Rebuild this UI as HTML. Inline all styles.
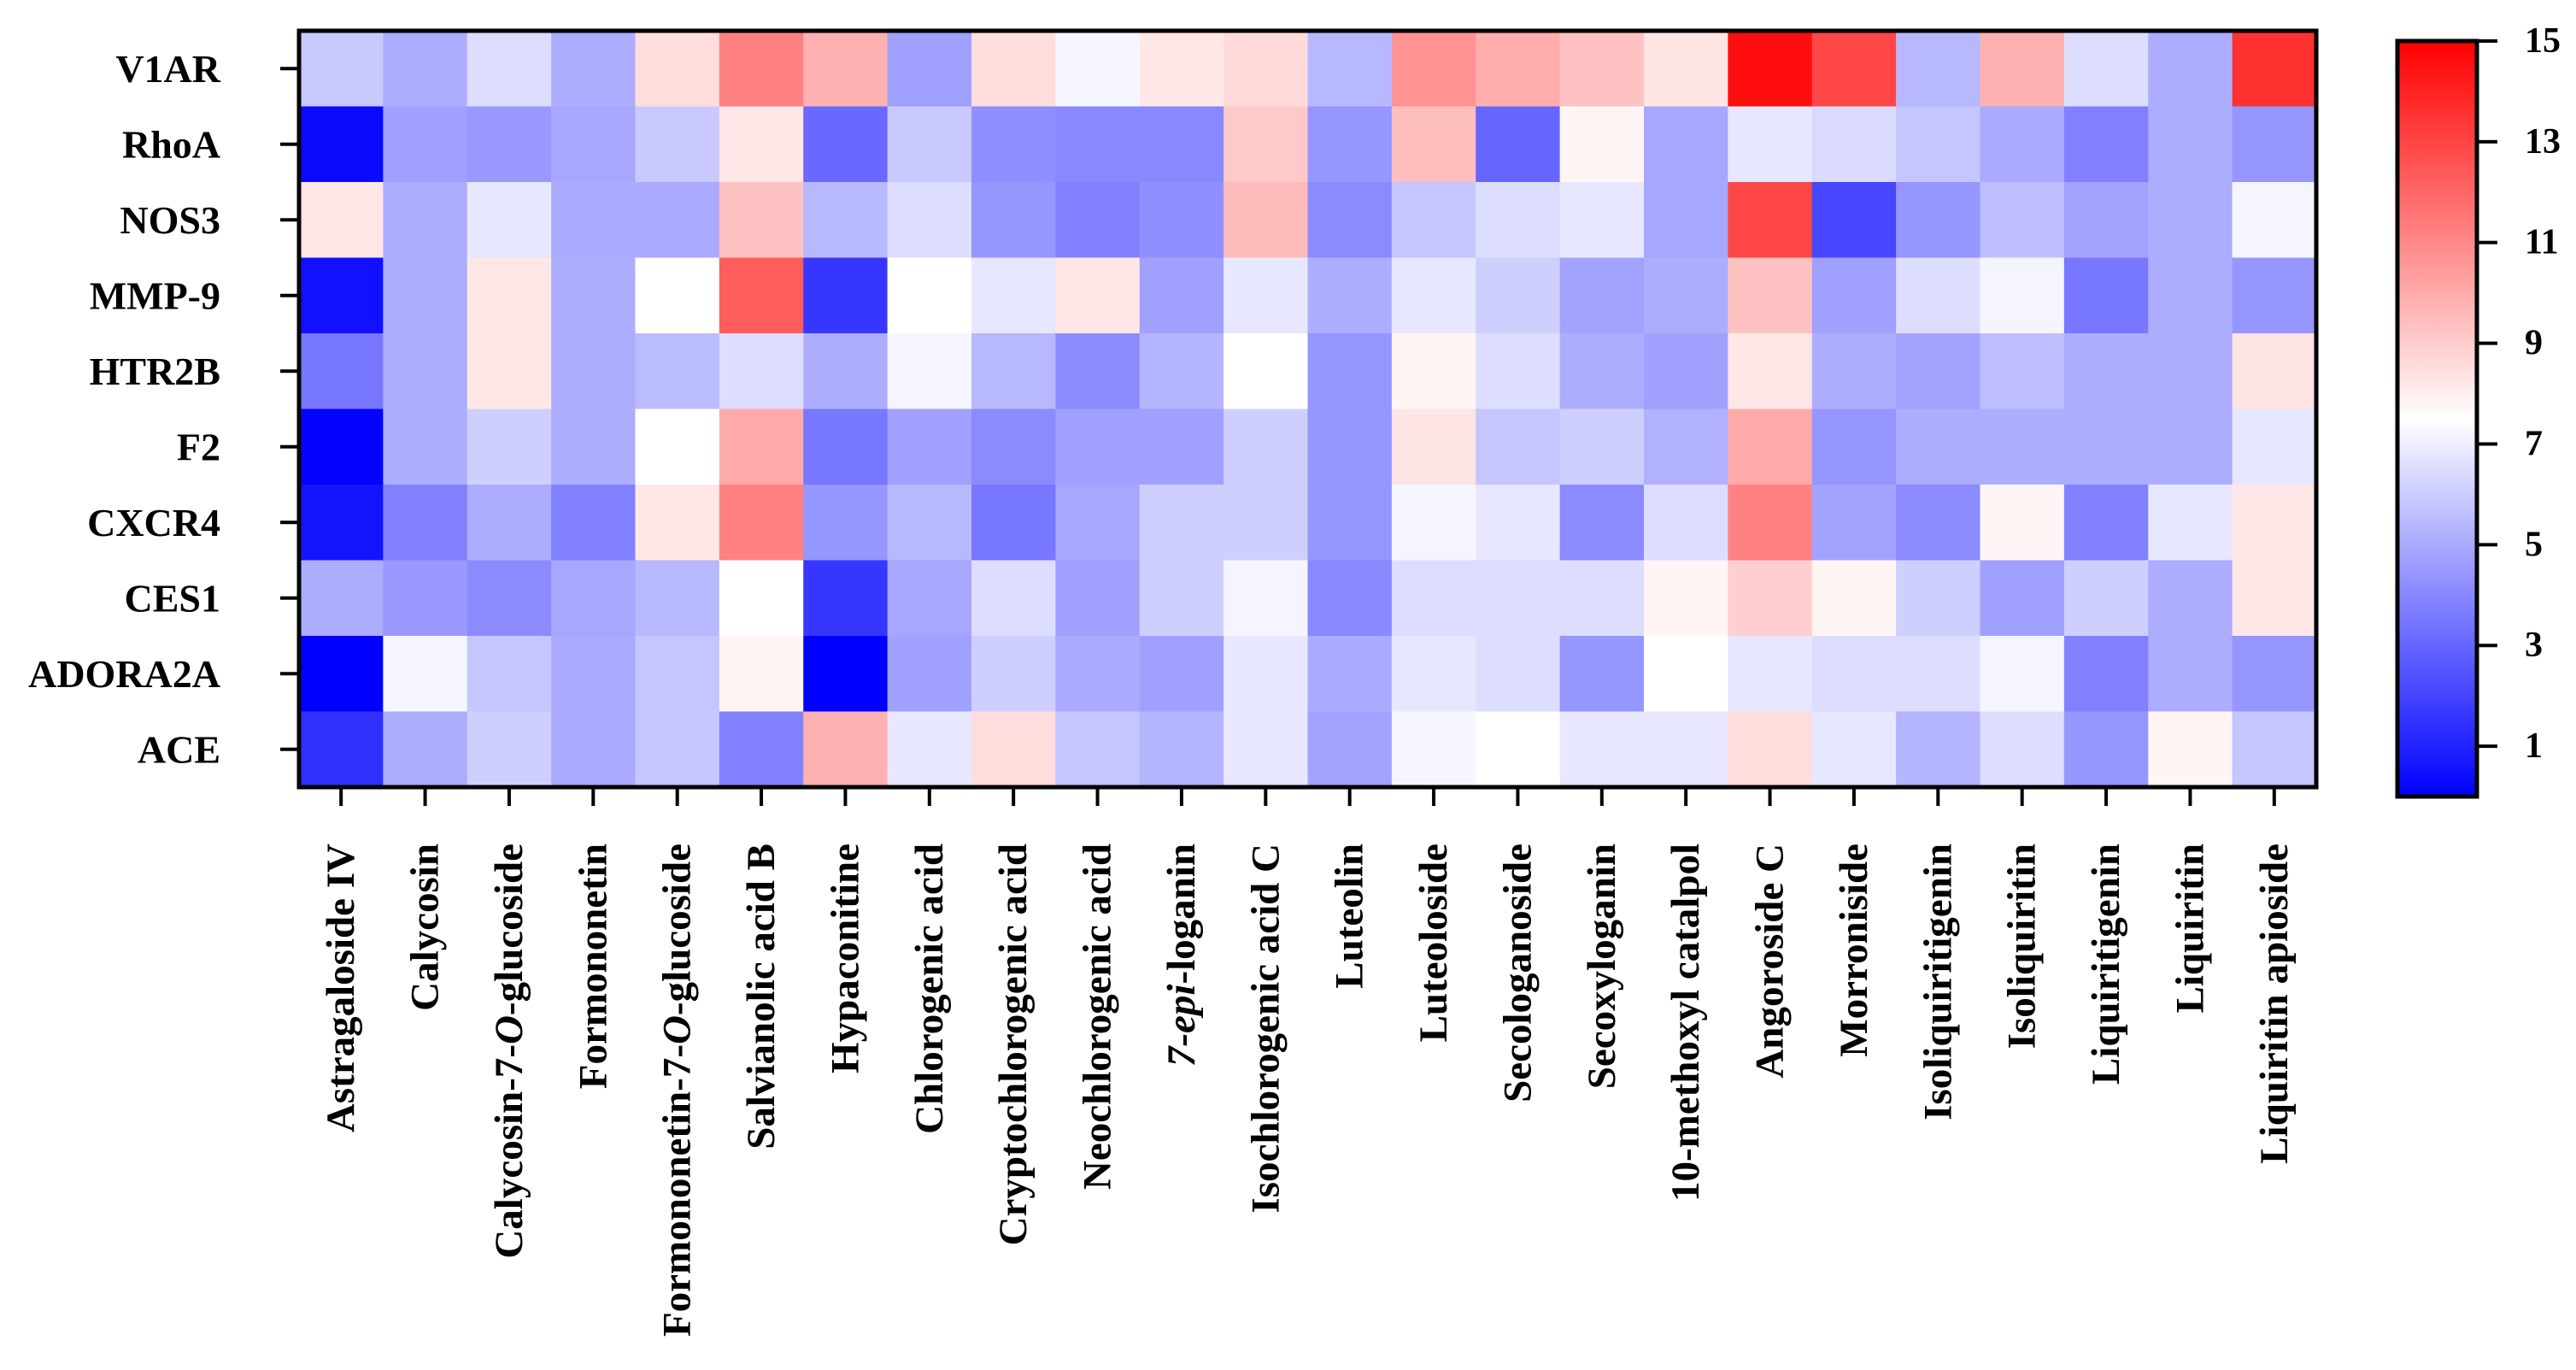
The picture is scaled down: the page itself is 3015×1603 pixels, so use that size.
<!DOCTYPE html>
<html><head><meta charset="utf-8"><style>
html,body{margin:0;padding:0;background:#fff;}
svg{display:block;font-family:"Liberation Serif",serif;font-weight:bold;}
</style></head><body>
<svg id="chart" width="3015" height="1603" xmlns="http://www.w3.org/2000/svg">
<defs><linearGradient id="cb" x1="0" y1="1" x2="0" y2="0">
<stop offset="0" stop-color="#0000ff"/><stop offset="0.5" stop-color="#ffffff"/><stop offset="1" stop-color="#ff0000"/></linearGradient></defs>
<g id="cells"></g>
<g id="labels"></g>
</svg>
<script>
const rows = ["V1AR","RhoA","NOS3","MMP-9","HTR2B","F2","CXCR4","CES1","ADORA2A","ACE"];
const cols = ["Astragaloside IV","Calycosin","Calycosin-7-<i>O</i>-glucoside","Formononetin","Formononetin-7-<i>O</i>-glucoside","Salvianolic acid B","Hypaconitine","Chlorogenic acid","Cryptochlorogenic acid","Neochlorogenic acid","<i>7-epi</i>-loganin","Isochlorogenic acid C","Luteolin","Luteoloside","Secologanoside","Secoxyloganin","10-methoxyl catalpol","Angoroside C","Morroniside","Isoliquiritigenin","Isoliquiritin","Liquiritigenin","Liquiritin","Liquiritin apioside"];
const vV1AR   = [5.9,5.1,6.5,5.1,8.5,11.2,9.8,4.7,8.5,7.2,8.2,8.6,5.4,10.7,9.9,9.3,8.3,14.6,12.9,5.4,9.8,6.5,5.1,13.6];
const vRhoA   = [0.3,4.7,4.5,4.9,5.9,8.2,3.1,5.9,4.2,4.0,4.0,9.1,4.4,9.4,3.0,7.8,4.9,6.8,6.4,5.8,5.0,3.8,5.1,4.4];
const vNOS3   = [8.2,5.1,6.8,5.0,5.0,9.3,5.4,6.5,4.4,3.8,4.2,9.5,4.1,5.8,6.5,6.8,4.9,12.9,2.1,4.4,5.6,4.8,5.1,7.2];
const vMMP9   = [0.5,5.1,8.2,5.1,7.5,12.3,1.6,7.5,6.8,8.2,4.7,6.8,5.1,6.8,6.1,4.8,5.1,9.3,4.7,6.5,7.2,3.5,5.1,4.4];
const vHTR2B  = [3.5,5.1,8.2,5.1,5.5,6.5,5.1,7.2,5.4,4.1,5.3,7.5,4.4,7.8,6.5,5.1,4.7,8.2,5.1,4.8,5.6,5.1,5.1,8.3];
const vF2     = [0.1,5.1,6.1,5.1,7.5,10.0,3.5,4.7,4.1,4.7,4.7,6.1,4.4,8.3,5.8,6.1,5.2,10.0,4.4,5.1,5.1,5.1,5.1,6.8];
const vCXCR4  = [0.6,3.8,5.1,3.8,8.2,11.2,4.4,5.4,3.5,4.9,6.1,6.1,4.4,7.2,6.8,4.1,6.5,11.2,4.8,4.1,7.8,3.8,6.8,8.2];
const vCES1   = [5.1,4.5,4.1,4.9,5.4,7.5,1.6,4.9,6.5,4.7,6.1,7.2,4.0,6.5,6.5,6.5,7.8,8.9,7.8,6.1,4.7,6.1,5.1,8.2];
const vADORA  = [0.0,7.2,5.8,5.0,5.8,7.8,0.0,4.7,6.1,5.0,4.7,6.8,5.0,6.8,6.5,4.4,7.5,6.8,6.5,6.5,7.2,3.8,5.1,4.4];
const vACE    = [1.4,5.1,6.1,5.0,5.8,3.8,9.8,6.8,8.5,5.8,5.3,6.8,4.8,7.2,7.5,6.8,6.8,8.5,6.8,5.3,6.5,4.4,7.8,5.8];
const values = [vV1AR,vRhoA,vNOS3,vMMP9,vHTR2B,vF2,vCXCR4,vCES1,vADORA,vACE];
const cbTicks = [1,3,5,7,9,11,13,15];

const NS="http://www.w3.org/2000/svg";
const L=350,R=2711,T=36,B=921, vmin=0, vmax=15;
const cw=(R-L)/cols.length, rh=(B-T)/rows.length;
const xS=i=>L+i*cw, yS=j=>T+j*rh;
const cbX=2806,cbW=93,cbT=48,cbB=932;
const cbY=v=>cbB-(v-vmin)/(vmax-vmin)*(cbB-cbT);
function color(v){
  const mid=(vmin+vmax)/2;
  if(v<=mid){const t=Math.max(0,(v-vmin)/(mid-vmin));const c=Math.round(255*t);return `rgb(${c},${c},255)`;}
  const s=Math.max(0,(vmax-v)/(vmax-mid));const c=Math.round(255*s);return `rgb(255,${c},${c})`;
}
function mk(tag,attrs,parent){const e=document.createElementNS(NS,tag);for(const k in attrs)e.setAttribute(k,attrs[k]);parent.appendChild(e);return e;}
const gc=document.getElementById('cells'), gl=document.getElementById('labels'), svg=document.getElementById('chart');
values.forEach((row,j)=>row.forEach((v,i)=>{
  const r=mk('rect',{x:xS(i),y:yS(j),width:cw+0.6,height:rh+0.6,fill:color(v)},gc);
  
  
}));
const frame=mk('rect',{x:L,y:T,width:R-L,height:B-T,fill:'none',stroke:'#000','stroke-width':5},svg);


rows.forEach((n,j)=>{
  const y=yS(j)+rh/2;
  const tk=mk('line',{x1:L-22,x2:L,y1:y,y2:y,stroke:'#000','stroke-width':4},gl);
  
  
  const t=mk('text',{x:258,y:y,'text-anchor':'end','dominant-baseline':'central','font-size':46},gl);
  t.textContent=n;
  
  
});
cols.forEach((n,i)=>{
  const x=xS(i)+cw/2;
  const tk=mk('line',{x1:x,x2:x,y1:B,y2:B+22,stroke:'#000','stroke-width':4},gl);
  
  
  const t=mk('text',{x:0,y:0,'text-anchor':'end','dominant-baseline':'central','font-size':47,transform:`translate(${x},987) rotate(-90)`},gl);
  t.innerHTML=n.replace(/<i>/g,'<tspan font-style="italic">').replace(/<\/i>/g,'</tspan>');
  
  
});
const cb=mk('rect',{x:cbX,y:cbT,width:cbW,height:cbB-cbT,fill:'url(#cb)',stroke:'#000','stroke-width':5},svg);


cbTicks.forEach(v=>{
  const y=cbY(v);
  const tk=mk('line',{x1:cbX+cbW,x2:cbX+cbW+24,y1:y,y2:y,stroke:'#000','stroke-width':4},svg);
  
  
  const t=mk('text',{x:2955,y:y,'dominant-baseline':'central','font-size':42},svg);
  t.textContent=v;
  
  
});
</script>
</body></html>
